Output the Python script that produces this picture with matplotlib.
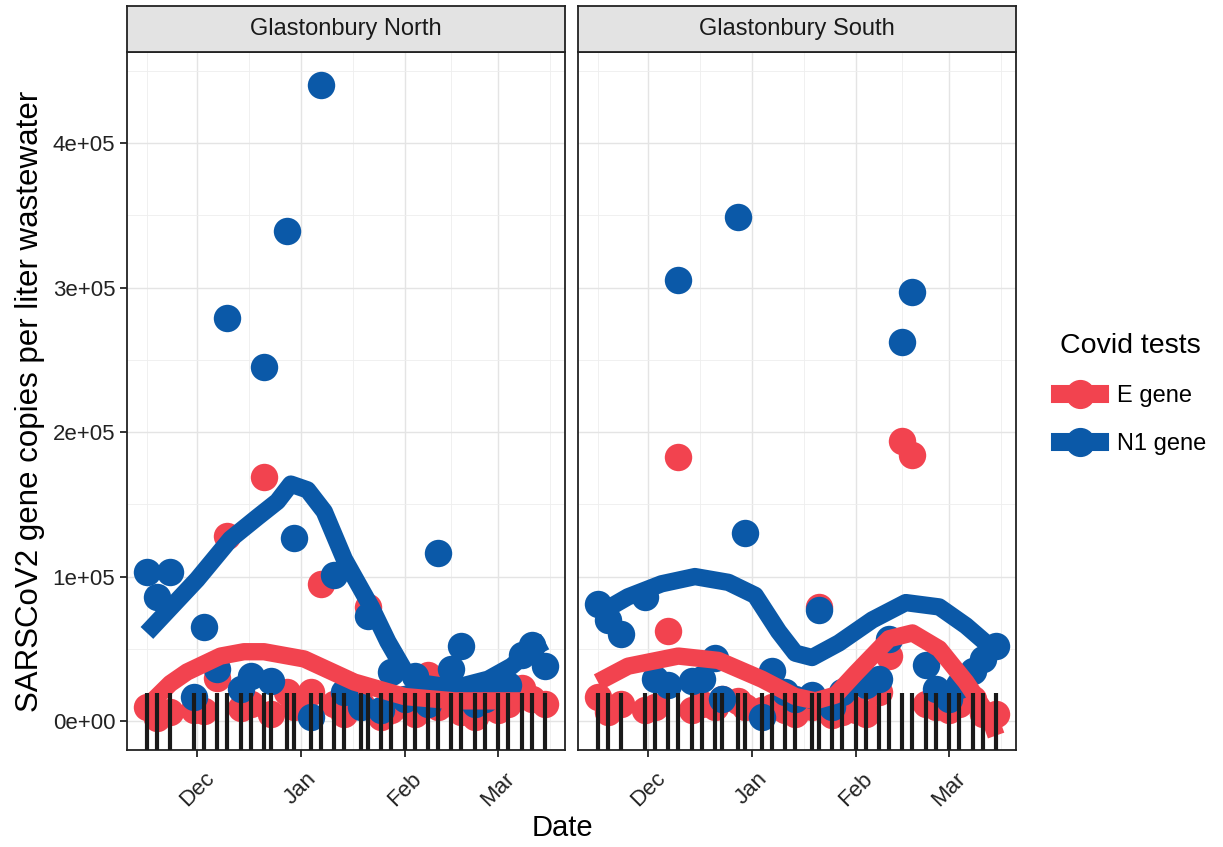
import matplotlib
matplotlib.use("Agg")
import matplotlib.pyplot as plt
import matplotlib.dates as mdates
from matplotlib.lines import Line2D
import pandas as pd

plt.rcParams['font.family'] = ['Liberation Sans', 'DejaVu Sans']

# sampling dates (same for both sites)
dates = ["2020-11-16", "2020-11-19", "2020-11-23", "2020-11-30", "2020-12-03", "2020-12-07",
         "2020-12-10", "2020-12-14", "2020-12-17", "2020-12-21", "2020-12-23", "2020-12-28",
         "2020-12-30", "2021-01-04", "2021-01-07", "2021-01-11", "2021-01-14", "2021-01-19",
         "2021-01-21", "2021-01-25", "2021-01-28", "2021-02-01", "2021-02-04", "2021-02-08",
         "2021-02-11", "2021-02-15", "2021-02-18", "2021-02-22", "2021-02-25", "2021-03-01",
         "2021-03-04", "2021-03-08", "2021-03-11", "2021-03-15"]

# gene copies per liter, in thousands
north_e = [10, 2, 6, 8, 7, 30, 128, 9, 12, 169, 5, 20, 10, 20, 95, 12, 5, 12, 79, 3, 8, 15,
           5, 32, 10, 20, 6, 3, 10, 8, 12, 23, 15, 12]
north_n1 = [103, 86, 103, 17, 65, 36, 279, 22, 31, 245, 28, 339, 127, 3, 440, 101, 20, 10, 73,
            8, 34, 15, 31, 12, 116, 36, 52, 12, 15, 20, 25, 46, 53, 38]
south_e = [17, 6, 12, 8, 10, 62, 183, 8, 12, 10, 15, 14, 10, 8, 10, 8, 5, 10, 79, 4, 6, 8,
           5, 20, 45, 194, 184, 12, 10, 8, 12, 15, 5, 5]
south_n1 = [81, 70, 60, 86, 29, 25, 305, 28, 29, 44, 15, 349, 130, 3, 35, 20, 15, 18, 77, 10,
            20, 28, 25, 29, 57, 262, 297, 39, 22, 15, 25, 35, 43, 52]

# smoothed trend lines (thousands)
north_n1_fit_dates = ["2020-11-16", "2020-12-01", "2020-12-11", "2020-12-19", "2020-12-25",
                      "2020-12-29", "2021-01-03", "2021-01-08", "2021-01-14", "2021-01-22",
                      "2021-01-27", "2021-02-01", "2021-02-07", "2021-02-16", "2021-02-26",
                      "2021-03-05", "2021-03-11", "2021-03-15"]
north_n1_fit = [61, 98, 126, 141, 152, 164, 160, 145, 112, 79, 55, 35, 26, 23, 29, 38, 50, 55]
north_e_fit_dates = ["2020-11-16", "2020-11-23", "2020-11-28", "2020-12-08", "2020-12-15",
                     "2020-12-21", "2021-01-02", "2021-01-17", "2021-02-01", "2021-02-16",
                     "2021-03-03", "2021-03-15"]
north_e_fit = [10, 26, 34, 45, 48, 48, 43, 27, 17, 14, 14, 14]
south_n1_fit_dates = ["2020-11-16", "2020-11-25", "2020-12-05", "2020-12-15", "2020-12-25",
                      "2021-01-02", "2021-01-09", "2021-01-14", "2021-01-19", "2021-01-27",
                      "2021-02-06", "2021-02-16", "2021-02-26", "2021-03-06", "2021-03-13",
                      "2021-03-15"]
south_n1_fit = [74, 86, 95, 100, 96, 87, 62, 47, 44, 54, 70, 82, 79, 66, 52, 48]
south_e_fit_dates = ["2020-11-16", "2020-11-25", "2020-12-10", "2020-12-22", "2021-01-04",
                     "2021-01-14", "2021-01-20", "2021-01-26", "2021-02-01", "2021-02-11",
                     "2021-02-18", "2021-02-26", "2021-03-06", "2021-03-13", "2021-03-15"]
south_e_fit = [27, 38, 45, 42, 29, 17, 14, 18, 33, 57, 61, 50, 27, 3, -10]

sites = ["Glastonbury North", "Glastonbury South"]
red = "#F2434F"
blue = "#0B59A8"

d = pd.to_datetime(dates)
panels = [
    (north_e, north_n1, north_e_fit_dates, north_e_fit, north_n1_fit_dates, north_n1_fit),
    (south_e, south_n1, south_e_fit_dates, south_e_fit, south_n1_fit_dates, south_n1_fit),
]

W, H = 1223, 847
fig = plt.figure(figsize=(W / 100, H / 100), dpi=100)

span = (d.max() - d.min()) * 0.05
xlim = (d.min() - span, d.max() + span)
months = pd.to_datetime(["2020-12-01", "2021-01-01", "2021-02-01", "2021-03-01"])
edges = pd.to_datetime(["2020-11-01", "2020-12-01", "2021-01-01", "2021-02-01",
                        "2021-03-01", "2021-04-01"])
mnum = mdates.date2num(edges)
minor = (mnum[:-1] + mnum[1:]) / 2

lefts = [127, 578]
pw = 438
top, bottom = 52, 750
for i, (e, n1, efd, ef, nfd, nf) in enumerate(panels):
    x0 = lefts[i]
    ax = fig.add_axes([x0 / W, 1 - bottom / H, pw / W, (bottom - top) / H])
    ax.scatter(d, [v * 1000 for v in e], s=390, color=red, zorder=3, linewidths=0)
    ax.scatter(d, [v * 1000 for v in n1], s=390, color=blue, zorder=4, linewidths=0)
    ax.plot(pd.to_datetime(nfd), [v * 1000 for v in nf], color=blue, lw=12.5,
            solid_joinstyle='round', solid_capstyle='butt', zorder=5)
    ax.plot(pd.to_datetime(efd), [v * 1000 for v in ef], color=red, lw=12.5,
            solid_joinstyle='round', solid_capstyle='butt', zorder=6)
    ax.vlines(d, 0, 0.082, transform=ax.get_xaxis_transform(), color="#1a1a1a",
              lw=3.0, zorder=7)
    ax.set_xlim(xlim)
    ax.set_ylim(-20000, 463000)
    ax.set_yticks([0, 100000, 200000, 300000, 400000])
    ax.set_yticks([50000, 150000, 250000, 350000, 450000], minor=True)
    ax.set_xticks(months)
    ax.set_xticks(minor, minor=True)
    ax.xaxis.set_major_formatter(mdates.DateFormatter("%b"))
    ax.grid(True, which='major', color="#E4E4E4", lw=1.0)
    ax.grid(True, which='minor', color="#EEEEEE", lw=0.6)
    ax.set_axisbelow(True)
    ax.tick_params(which='major', length=5, width=1.4, color="#333333", labelsize=16,
                   labelcolor="#222222")
    ax.tick_params(axis='x', pad=8)
    ax.tick_params(which='minor', length=0)
    for s in ax.spines.values():
        s.set_linewidth(1.3)
        s.set_color("#222222")
    for lab in ax.get_xticklabels():
        lab.set_rotation(45)
        lab.set_ha('center')
        lab.set_va('top')
    if i == 0:
        ax.set_yticklabels([f"{v:.0e}" for v in ax.get_yticks()])
    else:
        ax.set_yticklabels([])
        ax.tick_params(axis='y', length=0)

    sax = fig.add_axes([x0 / W, 1 - top / H, pw / W, 46 / H])
    sax.set_facecolor("#E3E3E3")
    sax.set_xticks([])
    sax.set_yticks([])
    for s in sax.spines.values():
        s.set_linewidth(1.3)
        s.set_color("#222222")
    sax.text(0.5, 0.5, sites[i], ha='center', va='center', fontsize=17, color="#1a1a1a",
             transform=sax.transAxes)

fig.text(30 / W, 1 - 401 / H, "SARSCoV2 gene copies per liter wastewater", rotation=90,
         ha='center', va='center', fontsize=22.5)
fig.text(562 / W, 1 - 828 / H, "Date", ha='center', va='center', fontsize=21)

handles = [Line2D([0], [0], color=red, lw=13, marker='o', markersize=20),
           Line2D([0], [0], color=blue, lw=13, marker='o', markersize=20)]
fig.legend(handles, ["E gene", "N1 gene"], title="Covid tests", loc='upper left',
           bbox_to_anchor=(1060 / W, 1 - 333 / H), frameon=False, fontsize=17,
           title_fontsize=20.5, handlelength=1.7, handletextpad=0.7, labelspacing=1.1,
           borderaxespad=0, borderpad=0, alignment='left')

fig.savefig("out.png", dpi=100)
